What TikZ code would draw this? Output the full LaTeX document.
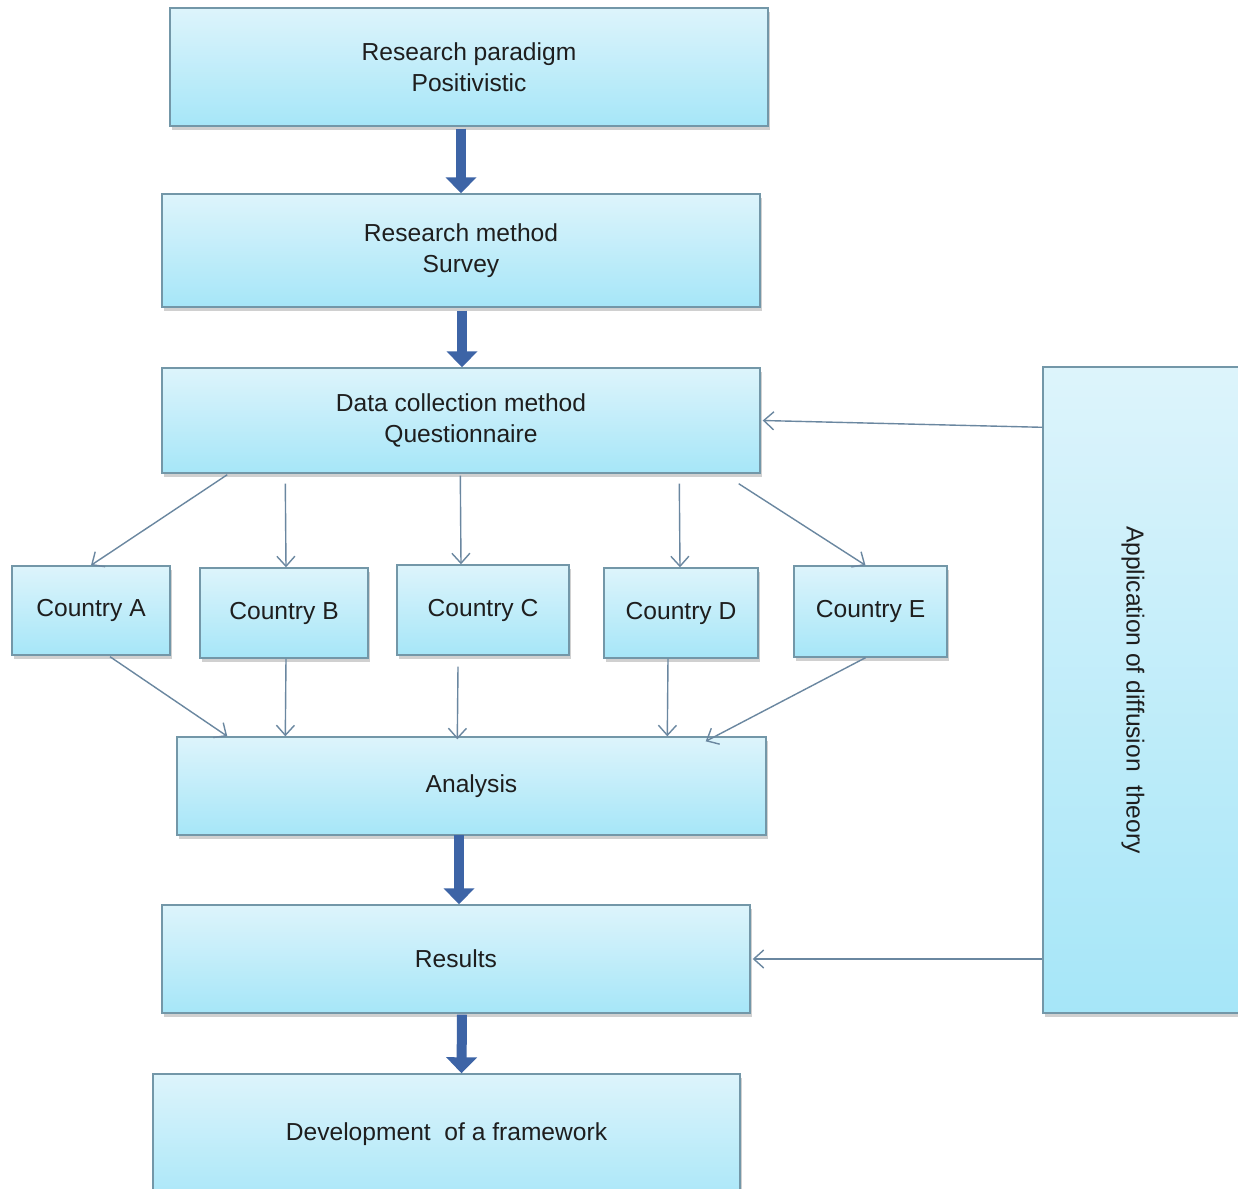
\documentclass[tikz,border=0pt]{standalone}
\usepackage{fontspec}
\setmainfont{Liberation Sans}
\usetikzlibrary{arrows.meta,shadows,calc}
\definecolor{boxtop}{HTML}{DDF4FB}
\definecolor{boxbot}{HTML}{A6E6F8}
\definecolor{boxedge}{HTML}{7397A8}
\definecolor{bigarrow}{HTML}{3D64A6}
\definecolor{thinarrow}{HTML}{6A87A0}
\definecolor{txt}{HTML}{1E1E1E}
\tikzset{
  box/.style={draw=boxedge, line width=0.7pt, top color=boxtop, bottom color=boxbot,
    inner sep=0pt, align=center, text=txt,
    font=\fontsize{12.3}{15.5}\selectfont,
    drop shadow={shadow xshift=1.2pt, shadow yshift=-1.8pt, opacity=0.3, fill=black!60}},
  bigarr/.style={draw=bigarrow, line width=5pt, -{Triangle[width=15pt,length=8pt]}},
  thinarr/.style={draw=thinarrow, line width=0.7pt, -{Straight Barb[length=5pt,width=9pt]}},
}
\newcommand\mybox[7][]{%
  \node[box,#1, minimum width={(#5-#3)*0.5pt}, minimum height={(#6-#4)*0.5pt}] (#2) at ({(#3+#5)/2},{(#4+#6)/2}) {#7};}
\begin{document}
\begin{tikzpicture}[x=0.5pt,y=-0.5pt]
\clip (0,0) rectangle (1238,1189);
\fill[white] (0,0) rectangle (1238,1189);
\mybox{rp}{170}{8}{768}{126}{Research paradigm\\Positivistic}
\mybox{rm}{162}{194}{760}{307}{Research method\\Survey}
\mybox{dc}{162}{368}{760}{473}{Data collection method\\Questionnaire}
\mybox{ca}{12}{566}{170}{655}{Country\ A}
\mybox{cb}{200}{568}{368}{658}{Country B}
\mybox{cc}{397}{565}{569}{655}{Country\ C}
\mybox{cd}{604}{568}{758}{658}{Country D}
\mybox{ce}{794}{566}{947}{657}{Country E}
\mybox{an}{177}{737}{766}{835}{Analysis}
\mybox{res}{162}{905}{750}{1013}{Results}
\mybox{dev}{153}{1074}{740}{1210}{\raisebox{1pt}[0pt][0pt]{Development\ \ of a framework}}
\mybox{app}{1043}{367}{1260}{1013}{}
\node[rotate=-90, text=txt, font=\fontsize{12.3}{15.5}\selectfont] (applabel) at (1133,690) {Application of diffusion\ \ theory};
% thick arrows
\draw[bigarr] (rm.north |- rp.south) ++(0,2) -- (rm.north);
\draw[bigarr] ($(rm.south)+(1,3)$) -- ($(dc.north)+(1,0)$);
\draw[bigarr] ($(res.north)+(3,-69)$) -- ($(res.north)+(3,0)$);
\draw[bigarr] ($(res.south)+(6,1)$) -- ($(dev.north)+(15,0)$);
% fan-out
\draw[thinarr] ($(dc.south west)+(66,1)$) -- (ca.north);
\draw[thinarr] ($(dc.south west)+(124,10)$) -- ($(cb.north)+(2,0)$);
\draw[thinarr] ($(dc.south west)+(299,2)$) -- ($(cc.north)+(-22,0)$);
\draw[thinarr] ($(dc.south west)+(518,10)$) -- ($(cd.north)+(-1,0)$);
\draw[thinarr] ($(dc.south east)+(-22,10)$) -- ($(ce.north)+(-5,0)$);
% fan-in
\draw[thinarr] ($(ca.south)+(19,1)$) -- ($(an.north west)+(51,0)$);
\draw[thinarr] ($(cb.south)+(2,0)$) -- ($(an.north west)+(109,0)$);
\draw[thinarr] ($(cc.south)+(-25,11)$) -- ($(an.north west)+(281,3)$);
\draw[thinarr] ($(cd.south)+(-13,0)$) -- ($(an.north west)+(491,0)$);
\draw[thinarr] ($(ce.south)+(-5,0)$) -- ($(an.north east)+(-61,5)$);
% from the theory box
\draw[thinarr] ($(app.north west)+(0,61)$) -- ($(dc.east)+(2,0)$);
\draw[thinarr] (app.west |- res.east) -- ($(res.east)+(2,0)$);
\end{tikzpicture}
\end{document}
